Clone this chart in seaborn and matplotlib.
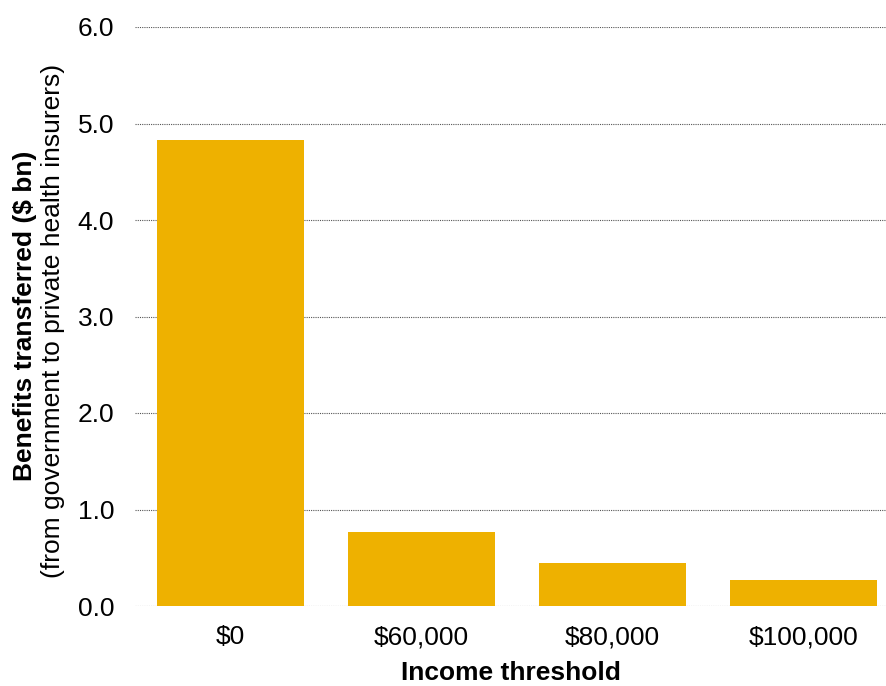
import matplotlib
matplotlib.use("Agg")
import matplotlib.pyplot as plt
import seaborn as sns
import pandas as pd

categories = ["$0", "$60,000", "$80,000", "$100,000"]
values = [4.83, 0.77, 0.445, 0.27]
yticks = [0.0, 1.0, 2.0, 3.0, 4.0, 5.0, 6.0]

sns.set_theme(style="white")
plt.rcParams['font.family'] = ['Liberation Sans', 'DejaVu Sans']
plt.rcParams['text.color'] = 'black'

df = pd.DataFrame({"threshold": categories, "benefit": values})

fig = plt.figure(figsize=(8.86, 6.86), dpi=100)
ax = fig.add_axes([135/886, 1-606/686, 1-135/886, (606-27)/686])

sns.barplot(data=df, x="threshold", y="benefit", color="#EEB100", saturation=1,
            width=0.77, ax=ax, edgecolor="none", zorder=3)

FS = 19
ax.set_ylim(0, 6.0)
ax.set_xlim(-0.5, 3.43)
ax.set_yticks(yticks)
ax.set_yticklabels([f"{v:.1f}" for v in yticks])
ax.yaxis.grid(True, linestyle=(0, (1, 1)), color="#555555", linewidth=0.8, zorder=0)
ax.xaxis.grid(False)
ax.set_axisbelow(True)
for s in ax.spines.values():
    s.set_visible(False)
ax.tick_params(axis="both", length=0, labelsize=FS, colors="black")
ax.tick_params(axis="y", pad=15)
ax.tick_params(axis="x", pad=14)
ax.set_xlabel("Income threshold", fontsize=FS, fontweight="bold", labelpad=8, color="black")
ax.set_ylabel("")

fig.text(25/886, 1-316/686, "Benefits transferred ($ bn)", rotation=90, fontsize=FS,
         fontweight="bold", ha="center", va="center", color="black")
fig.text(53/886, 1-321/686, "(from government to private health insurers)", rotation=90,
         fontsize=FS, ha="center", va="center", color="black")

fig.savefig("out.png", dpi=100)
